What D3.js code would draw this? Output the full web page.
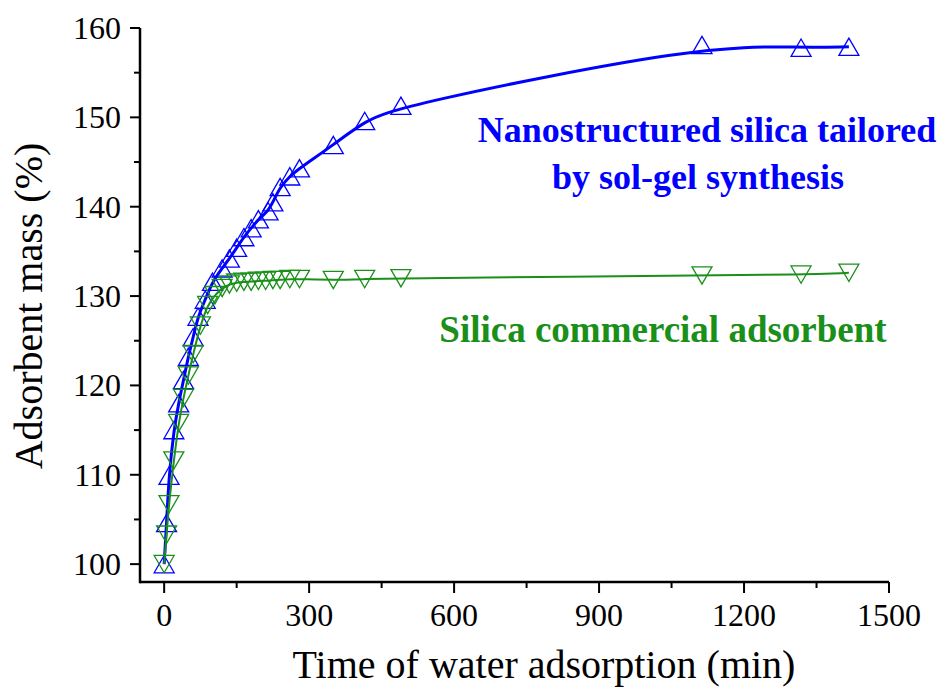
<!DOCTYPE html>
<html>
<head>
<meta charset="utf-8">
<title>Water adsorption</title>
<style>
  body { margin: 0; background: #fff; }
</style>
<script src="https://d3js.org/d3.v7.min.js"></script>
</head>
<body>
<div id="chart"></div>
<script>
// ******* Data *******
const nanoTime = [0, 5, 10, 20, 30, 40, 50, 60, 70, 85, 100, 120, 135, 150, 165, 180, 195, 215, 225, 240, 260, 280, 350, 415, 490, 1113, 1318, 1417];
const nanoMass = [100, 104.6, 109.9, 115.0, 118.0, 120.6, 123.2, 125.4, 127.7, 129.6, 131.6, 133.1, 134.2, 135.4, 136.6, 137.6, 138.6, 139.5, 140.5, 142.2, 143.4, 144.3, 146.9, 149.6, 151.3, 158.1, 157.8, 157.9];

const commTime = [0, 5, 10, 20, 30, 40, 50, 60, 75, 90, 105, 120, 135, 150, 165, 180, 195, 210, 225, 240, 260, 280, 350, 415, 490, 1113, 1318, 1417];
const commMass = [100, 103.3, 106.7, 111.6, 115.8, 118.6, 121.1, 123.5, 126.7, 129.0, 130.1, 130.9, 131.3, 131.5, 131.6, 131.6, 131.7, 131.7, 131.8, 131.8, 131.9, 131.9, 131.8, 131.9, 132.0, 132.3, 132.4, 132.6];

const xMajor = [0, 300, 600, 900, 1200, 1500];
const xMinor = [150, 450, 750, 1050, 1350];
const yMajor = [100, 110, 120, 130, 140, 150, 160];
const yMinor = [105, 115, 125, 135, 145, 155];

// ******* Constants *******
const width = 948, height = 690;
const blue = "#0000ff", green = "#1a8f1a";
const serif = "'Liberation Serif', 'Times New Roman', serif";

var x = d3.scaleLinear().domain([-50, 1500]).range([140, 889]);
var y = d3.scaleLinear().domain([98, 160]).range([582, 28]);

var svg = d3.select("#chart").append("svg")
    .attr("width", width)
    .attr("height", height)
    .attr("font-family", serif);

// ******* Axes *******
var axisG = svg.append("g").attr("stroke", "black");

axisG.append("line")
    .attr("x1", x.range()[0]).attr("x2", x.range()[1])
    .attr("y1", y.range()[0]).attr("y2", y.range()[0])
    .attr("stroke-width", 2.5);
axisG.append("line")
    .attr("x1", x.range()[0]).attr("x2", x.range()[0])
    .attr("y1", y.range()[0] + 1.2).attr("y2", y.range()[1])
    .attr("stroke-width", 2.5);

axisG.selectAll(".xmaj").data(xMajor).enter().append("line")
    .attr("x1", d => x(d)).attr("x2", d => x(d))
    .attr("y1", y.range()[0]).attr("y2", y.range()[0] + 11)
    .attr("stroke-width", 2);
axisG.selectAll(".xmin").data(xMinor).enter().append("line")
    .attr("x1", d => x(d)).attr("x2", d => x(d))
    .attr("y1", y.range()[0]).attr("y2", y.range()[0] + 6)
    .attr("stroke-width", 2);
axisG.selectAll(".ymaj").data(yMajor).enter().append("line")
    .attr("x1", x.range()[0] - 10).attr("x2", x.range()[0])
    .attr("y1", d => y(d)).attr("y2", d => y(d))
    .attr("stroke-width", 2);
axisG.selectAll(".ymin").data(yMinor).enter().append("line")
    .attr("x1", x.range()[0] - 6).attr("x2", x.range()[0])
    .attr("y1", d => y(d)).attr("y2", d => y(d))
    .attr("stroke-width", 2);

svg.selectAll(".xlab").data(xMajor).enter().append("text")
    .attr("x", d => x(d)).attr("y", 626)
    .attr("text-anchor", "middle")
    .attr("font-family", serif)
    .attr("font-size", 32)
    .text(d => d);
svg.selectAll(".ylab").data(yMajor).enter().append("text")
    .attr("x", 121).attr("y", d => y(d) + 11)
    .attr("text-anchor", "end")
    .attr("font-family", serif)
    .attr("font-size", 32)
    .text(d => d);

svg.append("text")
    .attr("x", 544).attr("y", 678)
    .attr("text-anchor", "middle")
    .attr("font-family", serif)
    .attr("font-size", 40)
    .text("Time of water adsorption (min)");
svg.append("text")
    .attr("transform", "translate(42,306) rotate(-90)")
    .attr("text-anchor", "middle")
    .attr("font-family", serif)
    .attr("font-size", 40)
    .text("Adsorbent mass (%)");

// ******* Series *******
function tri(s, down) {
    const h = s * Math.sqrt(3) / 2, k = down ? -1 : 1;
    return "M0," + (-k * h / 2) + "L" + (s / 2) + "," + (k * h / 2) + "L" + (-s / 2) + "," + (k * h / 2) + "Z";
}

function drawSeries(times, masses, color, lw, down) {
    var pts = times.map((t, i) => [t, masses[i]]);
    var line = d3.line()
        .x(d => x(d[0]))
        .y(d => y(d[1]))
        .curve(d3.curveBasis);
    svg.append("path")
        .datum(pts)
        .attr("d", line)
        .attr("fill", "none")
        .attr("stroke", color)
        .attr("stroke-width", lw);
    svg.append("g").selectAll("path")
        .data(pts)
        .enter()
        .append("path")
        .attr("transform", d => "translate(" + x(d[0]) + "," + y(d[1]) + ")")
        .attr("d", tri(20, down))
        .attr("fill", "none")
        .attr("stroke", color)
        .attr("stroke-width", 1.3);
}

drawSeries(nanoTime, nanoMass, blue, 3, false);
drawSeries(commTime, commMass, green, 2, true);

// ******* Labels *******
svg.append("text")
    .attr("x", 707).attr("y", 142)
    .attr("text-anchor", "middle")
    .attr("font-family", serif)
    .attr("font-size", 36).attr("font-weight", "bold")
    .attr("fill", blue)
    .text("Nanostructured silica tailored");
svg.append("text")
    .attr("x", 698).attr("y", 189)
    .attr("text-anchor", "middle")
    .attr("font-family", serif)
    .attr("font-size", 36).attr("font-weight", "bold")
    .attr("fill", blue)
    .text("by sol-gel synthesis");
svg.append("text")
    .attr("x", 663).attr("y", 342)
    .attr("text-anchor", "middle")
    .attr("font-family", serif)
    .attr("font-size", 37).attr("font-weight", "bold")
    .attr("fill", green)
    .text("Silica commercial adsorbent");
</script>
</body>
</html>
